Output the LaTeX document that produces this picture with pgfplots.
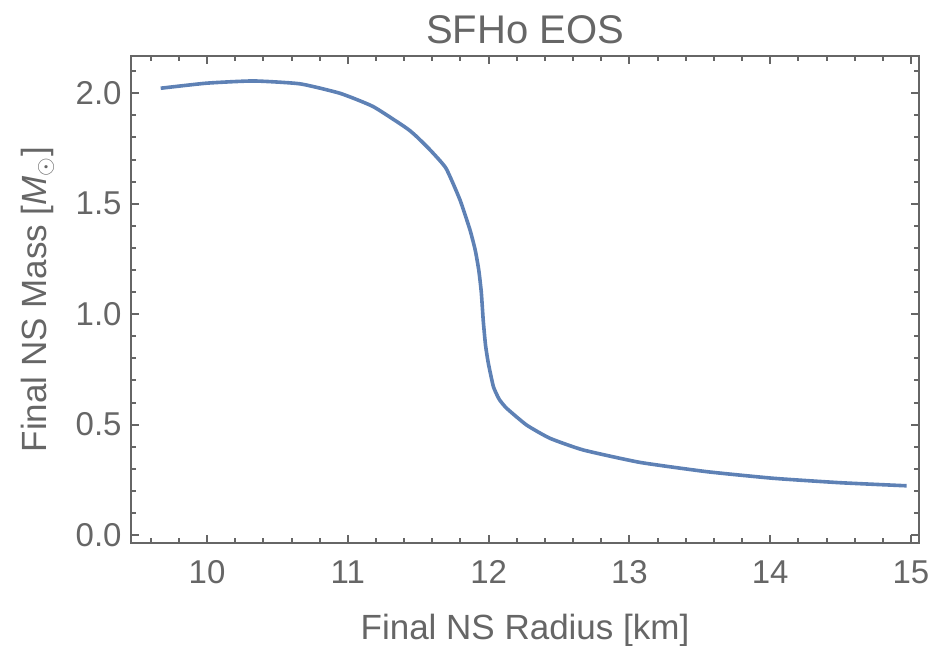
\documentclass[border=0pt]{standalone}
\usepackage{fontspec}
\setmainfont{Liberation Sans}
\usepackage{pgfplots}
\pgfplotsset{compat=1.18}
\definecolor{mgray}{HTML}{666666}
\definecolor{mblue}{HTML}{5E81B5}
\begin{document}
\begin{tikzpicture}
\begin{axis}[
  scale only axis, width=394pt, height=243.5pt,
  xmin=9.46, xmax=15.057, ymin=-0.036, ymax=2.169,
  axis line style={mgray, line width=1pt},
  xtick={10,11,12,13,14,15}, ytick={0,0.5,1,1.5,2},
  minor xtick={9.6,9.8,10,10.2,10.4,10.6,10.8,11,11.2,11.4,11.6,11.8,12,12.2,12.4,12.6,12.8,13,13.2,13.4,13.6,13.8,14,14.2,14.4,14.6,14.8,15},
  minor ytick={0,0.1,0.2,0.3,0.4,0.5,0.6,0.7,0.8,0.9,1,1.1,1.2,1.3,1.4,1.5,1.6,1.7,1.8,1.9,2,2.1},
  tick align=inside, tick pos=both,
  major tick length=4pt, minor tick length=2.3pt,
  every tick/.style={mgray, line width=1pt},
  /pgf/number format/assume math mode=true,
  ticklabel style={font=\fontsize{16.5}{19}\selectfont, text=mgray},
  xticklabel style={anchor=north, inner sep=0pt, yshift=-8.5pt},
  yticklabel style={anchor=east, inner sep=0pt, xshift=-4.5pt,
    /pgf/number format/.cd, fixed, fixed zerofill, precision=1},
  every axis x label/.style={at={(axis description cs:0.5,-0.199)}, anchor=base, inner sep=0pt,
    font=\fontsize{17.5}{20}\selectfont, text=mgray},
  every axis y label/.style={at={(axis description cs:-0.1066,0.5)}, rotate=90, anchor=base, inner sep=0pt,
    font=\fontsize{17.5}{20}\selectfont, text=mgray},
  every axis title/.style={at={(axis description cs:0.5,1)}, anchor=base, yshift=6pt, inner sep=0pt,
    font=\fontsize{20}{24}\selectfont, text=mgray},
  xlabel={Final NS Radius [km]},
  ylabel={Final NS Mass [\textit{M}$_{\odot}$]},
  title={SFHo EOS},
]
\addplot[mblue, line width=1.8pt, line join=round, smooth, tension=0.3] coordinates {
(9.671,2.023) (9.998,2.046) (10.33,2.056) (10.66,2.043) (10.945,2.000)
(11.18,1.940) (11.418,1.842) (11.489,1.804) (11.584,1.744) (11.697,1.661)
(11.797,1.517) (11.868,1.381) (11.905,1.290) (11.930,1.200) (11.948,1.100)
(11.962,0.970) (11.978,0.860) (11.998,0.778) (12.034,0.672) (12.075,0.615) (12.128,0.574) (12.27,0.498)
(12.436,0.438) (12.673,0.385) (13.075,0.329) (13.549,0.287) (14.022,0.257)
(14.496,0.237) (14.969,0.223)
};
\end{axis}
\pgfresetboundingbox
\path (current axis.south west) ++(-65.5pt,-51.5pt) coordinate (bbA);
\path (current axis.north east) ++(5.5pt,28pt) coordinate (bbB);
\useasboundingbox (bbA) rectangle (bbB);
\end{tikzpicture}
\end{document}
